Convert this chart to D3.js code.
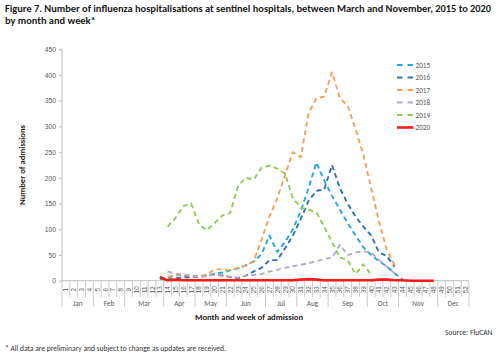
<!DOCTYPE html>
<html><head><meta charset="utf-8">
<script src="https://cdn.jsdelivr.net/npm/d3@7"></script>
<style>
html,body{margin:0;padding:0;background:#fff;}
svg{display:block;font-family:Carlito,Calibri,"Liberation Sans",Arial,sans-serif;}
</style></head>
<body><svg id="c" width="500" height="355"></svg>
<script>
// ---- data ----
const weeks = d3.range(1, 53);
const months = ["Jan","Feb","Mar","Apr","May","Jun","Jul","Aug","Sep","Oct","Nov","Dec"];
const monthWeeks = [4,4,5,4,4,5,4,4,5,4,5,4]; // weeks per month
const yTicks = [0,50,100,150,200,250,300,350,400,450];
const seriesNames = ["2015","2016","2017","2018","2019","2020"];
const startWeek = [13,13,14,14,14,13];
const v2015 = [3,5,12,10,8,8,10,14,16,20,24,30,37,52,88,56,75,100,135,180,230,195,165,138,112,88,65,50,38,28,14,3];
const v2016 = [8,2,5,6,7,8,10,12,10,7,5,10,18,25,40,40,63,88,120,155,175,177,225,180,150,125,105,88,55,48,27];
const v2017 = [8,10,12,9,8,12,22,22,20,25,30,38,80,125,160,205,250,240,325,355,358,405,355,340,295,245,180,115,60,30];
const v2018 = [18,14,11,10,8,8,13,10,8,6,10,11,13,18,21,25,28,31,34,38,42,45,70,50,55,57,55,40,27,15];
const v2019 = [105,122,145,150,110,98,112,127,132,185,200,197,220,224,218,208,160,142,138,133,105,75,45,40,13,32,12];
const v2020 = [6,1,2,1,1,1,1,1,1,1,1,1,1,1,1,1,1,1,2,3,2,1,1,1,1,1,1,1,2,2,1,1,0,0,0,0];
const seriesValues = [v2015,v2016,v2017,v2018,v2019,v2020];
const colors = ["#1fa9e3","#2e6fb5","#f5a05a","#b3aacb","#92cc55","#ff1a1a"];

// ---- layout ----
const svg = d3.select("#c");
const L = 62, R = 469, T = 49.3, B = 280.7;
const x = d3.scaleBand().domain(weeks).range([L, R]).paddingInner(0).paddingOuter(0);
const y = d3.scaleLinear().domain([0, 450]).range([B, T]);
const axisCol = "#bfbfbf", txtCol = "#595959";

function fit(sel, w){ const n=sel.node(); const cur=n.getComputedTextLength(); const fs=parseFloat(sel.attr("font-size")); sel.attr("font-size", fs*w/cur); }

// title
const t1 = svg.append("text").attr("x",5).attr("y",12).attr("font-size",11.5).attr("font-weight","bold").attr("fill","#1a1a1a")
  .text("Figure 7. Number of influenza hospitalisations at sentinel hospitals, between March and November, 2015 to 2020");
fit(t1, 487);
const t2 = svg.append("text").attr("x",5).attr("y",24).attr("font-size",parseFloat(t1.attr("font-size"))).attr("font-weight","bold").attr("fill","#1a1a1a")
  .text("by month and week*");

// y axis
const yAxis = d3.axisLeft(y).tickValues(yTicks).tickSize(3).tickPadding(3);
const gy = svg.append("g").attr("transform",`translate(${L},0)`).call(yAxis);
gy.select(".domain").attr("stroke",axisCol).attr("d",`M-3,${T}H0V${B}`);
gy.selectAll(".tick line").attr("stroke",axisCol);
gy.selectAll(".tick text").attr("fill",txtCol).attr("font-size",6.8).attr("font-family","inherit");

// x axis (band axis for week labels)
const xAxis = d3.axisBottom(x).tickSize(0).tickPadding(0);
const gx = svg.append("g").attr("transform",`translate(0,${B})`).call(xAxis);
gx.select(".domain").attr("stroke",axisCol).attr("d",`M${L},0H${R}`);
gx.selectAll(".tick text").attr("fill",txtCol).attr("font-size",6.3).attr("font-family","inherit")
  .attr("text-anchor","middle").attr("dy",null).attr("y",null)
  .attr("transform","translate(0,9) rotate(-90)").attr("dominant-baseline","central");

// week separators and month dividers
const cum = [0]; monthWeeks.forEach((m,i)=>cum.push(cum[i]+m));
const boundaries = d3.range(0,53);
svg.append("g").selectAll("line").data(boundaries).join("line")
  .attr("x1",d=> d===52 ? R : x(d+1)).attr("x2",d=> d===52 ? R : x(d+1))
  .attr("y1",B).attr("y2",d=> cum.includes(d) ? 307 : 297)
  .attr("stroke",axisCol).attr("stroke-width",0.8);
svg.append("g").selectAll("text").data(months).join("text")
  .attr("x",(d,i)=> { const a = cum[i], b = cum[i+1]; return (x(a+1) + (b===52?R:x(b+1)))/2; })
  .attr("y",305.5).attr("text-anchor","middle").attr("font-size",7.2).attr("fill",txtCol).text(d=>d);

// axis titles
svg.append("text").attr("x",249).attr("y",320).attr("text-anchor","middle").attr("font-size",8.6).attr("font-weight","bold").attr("fill","#1a1a1a")
  .text("Month and week of admission");
svg.append("text").attr("transform","translate(25,165) rotate(-90)").attr("text-anchor","middle").attr("font-size",8.6).attr("font-weight","bold").attr("fill","#1a1a1a")
  .text("Number of admissions");

// series
const line = d3.line().x(d=>x(d.w)+x.bandwidth()/2).y(d=>y(d.v));
seriesNames.forEach((name,i)=>{
  const data = seriesValues[i].map((v,j)=>({w:startWeek[i]+j, v}));
  svg.append("path").datum(data).attr("d",line).attr("fill","none")
    .attr("stroke",colors[i]).attr("stroke-width", i===5 ? 2.6 : 1.9)
    .attr("stroke-dasharray", i===5 ? null : "5,3.5").attr("stroke-linejoin","round");
});

// legend
const lg = svg.append("g");
seriesNames.forEach((name,i)=>{
  const yy = 65 + i*12.5;
  lg.append("line").attr("x1",397).attr("x2",413.5).attr("y1",yy).attr("y2",yy)
    .attr("stroke",colors[i]).attr("stroke-width", i===5 ? 2.6 : 1.9)
    .attr("stroke-dasharray", i===5 ? null : "5.5,5");
  lg.append("text").attr("x",415.5).attr("y",yy).attr("dominant-baseline","central")
    .attr("font-size",7.2).attr("fill",txtCol).text(name);
});

// notes
const src = svg.append("text").attr("x",492.5).attr("y",335).attr("text-anchor","end").attr("font-size",7.5).attr("fill","#333").text("Source: FluCAN");
fit(src, 47.5);
const fn = svg.append("text").attr("x",5).attr("y",351).attr("font-size",7.5).attr("fill","#333")
  .text("* All data are preliminary and subject to change as updates are received.");
fit(fn, 221);
</script></body></html>
